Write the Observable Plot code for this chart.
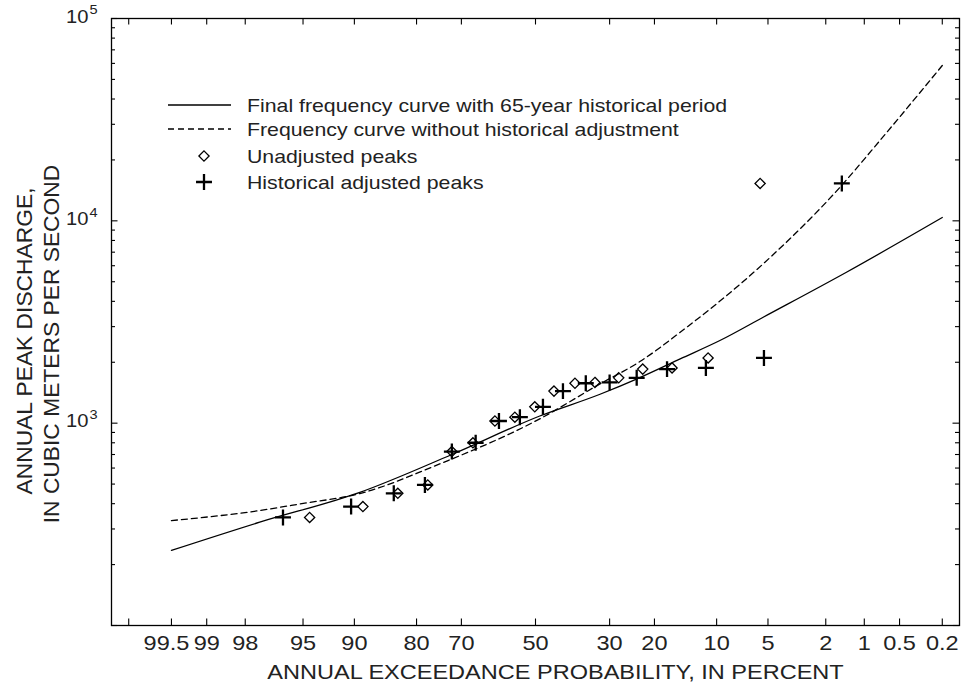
<!DOCTYPE html>
<html><head><meta charset="utf-8">
<script src="https://cdn.jsdelivr.net/npm/d3@7"></script>
<script src="https://cdn.jsdelivr.net/npm/@observablehq/plot@0.6"></script>
<style>html,body{margin:0;padding:0;background:#fff}svg{display:block}</style>
</head><body><div id="chart"></div>
<script>
// ---- data ----
const probTicks  = [99.8, 99.5, 99, 98, 95, 90, 80, 70, 50, 30, 20, 10, 5, 2, 1, 0.5, 0.2];
const probLabels = ["", "99.5", "99", "98", "95", "90", "80", "70", "50", "30", "20", "10", "5", "2", "1", "0.5", "0.2"];
const decadeTicks = [100, 1000, 10000, 100000];
const decadeLabels = [1000, 10000, 100000];
const minorTicks = [200, 300, 400, 500, 600, 700, 800, 900,
                    2000, 3000, 4000, 5000, 6000, 7000, 8000, 9000,
                    20000, 30000, 40000, 50000, 60000, 70000, 80000, 90000];

// Final frequency curve with 65-year historical period
const finalProb = [99.5, 97.45, 89.3, 72.3, 48.8, 32.4, 23.0, 15.3, 9.6, 5.36, 1.39, 0.2];
const finalQ    = [235, 324, 455, 700, 1085, 1390, 1680, 2079, 2561, 3338, 5570, 10380];

// Frequency curve without historical adjustment
const unadjCurveProb = [99.5, 97.45, 95.2, 89.3, 75.1, 48.8, 32.4, 23.0, 15.3, 5.36, 1.56, 0.74, 0.2];
const unadjCurveQ    = [330, 370, 399, 449, 629, 1050, 1564, 2016, 2813, 6131, 14660, 24950, 58570];

// Peaks (same discharges, two plotting positions)
const peakQ      = [15300, 2100, 1875, 1850, 1675, 1590, 1575, 1440, 1205, 1070, 1025, 800, 724, 495, 450, 387, 342];
const unadjProb  = [5.6, 11.1, 16.7, 22.4, 27.8, 33.7, 39.0, 44.8, 50.2, 55.8, 61.3, 67.1, 72.3, 77.7, 83.5, 88.9, 94.5];
const histProb   = [1.51, 5.3, 11.4, 17.6, 23.7, 30.0, 36.1, 42.3, 47.9, 54.4, 60.2, 66.4, 72.3, 78.3, 84.2, 90.4, 96.3];

const legendLabels = [
  "Final frequency curve with 65-year historical period",
  "Frequency curve without historical adjustment",
  "Unadjusted peaks",
  "Historical adjusted peaks"
];
const xTitle = "ANNUAL EXCEEDANCE PROBABILITY, IN PERCENT";
const yTitle1 = "ANNUAL PEAK DISCHARGE,";
const yTitle2 = "IN CUBIC METERS PER SECOND";

// ---- normal probability transform (Acklam inverse normal) ----
function probit(p) {
  const a=[-3.969683028665376e+01,2.209460984245205e+02,-2.759285104469687e+02,1.383577518672690e+02,-3.066479806614716e+01,2.506628277459239e+00];
  const b=[-5.447609879822406e+01,1.615858368580409e+02,-1.556989798598866e+02,6.680131188771972e+01,-1.328068155288572e+01];
  const c=[-7.784894002430293e-03,-3.223964580411365e-01,-2.400758277161838e+00,-2.549732539343734e+00,4.374664141464968e+00,2.938163982698783e+00];
  const d=[7.784695709041462e-03,3.224671290700398e-01,2.445134137142996e+00,3.754408661907416e+00];
  const pl = 0.02425, ph = 1 - pl;
  let q, r;
  if (p < pl) { q = Math.sqrt(-2*Math.log(p)); return (((((c[0]*q+c[1])*q+c[2])*q+c[3])*q+c[4])*q+c[5])/((((d[0]*q+d[1])*q+d[2])*q+d[3])*q+1); }
  if (p <= ph) { q = p - 0.5; r = q*q; return (((((a[0]*r+a[1])*r+a[2])*r+a[3])*r+a[4])*r+a[5])*q/(((((b[0]*r+b[1])*r+b[2])*r+b[3])*r+b[4])*r+1); }
  q = Math.sqrt(-2*Math.log(1-p)); return -(((((c[0]*q+c[1])*q+c[2])*q+c[3])*q+c[4])*q+c[5])/((((d[0]*q+d[1])*q+d[2])*q+d[3])*q+1);
}
const zx = p => -probit(p / 100);

// ---- tables ----
const finalCurve = finalProb.map((p, i) => ({p, q: finalQ[i]}));
const unadjCurve = unadjCurveProb.map((p, i) => ({p, q: unadjCurveQ[i]}));
const unadjPeaks = unadjProb.map((p, i) => ({p, q: peakQ[i]}));
const histPeaks  = histProb.map((p, i) => ({p, q: peakQ[i]}));
const xTickData  = probTicks.map((p, i) => ({p, label: probLabels[i]}));

const W = 966, H = 692, ML = 111, MR = 7, MT = 18, MB = 67;
const PW = W - ML - MR, PH = H - MT - MB;
const FONT = "'Liberation Sans', Arial, Helvetica, sans-serif";
const INK = "#222";

const svg = Plot.plot({
  width: W, height: H,
  marginLeft: ML, marginRight: MR, marginTop: MT, marginBottom: MB,
  style: {fontFamily: FONT, background: "#fff", color: "#000", overflow: "visible"},
  x: {type: "linear", domain: [-3, 3], axis: null},
  y: {type: "log", domain: [100, 100000], axis: null},
  marks: [
    // ticks, inward on all four sides
    Plot.tickX(probTicks, {x: zx, insetTop: PH - 6.5, stroke: "#000", strokeWidth: 1.1}),
    Plot.tickX(probTicks, {x: zx, insetBottom: PH - 6.5, stroke: "#000", strokeWidth: 1.1}),
    Plot.tickY(decadeTicks, {y: d => d, insetRight: PW - 6.5, stroke: "#000", strokeWidth: 1.1}),
    Plot.tickY(decadeTicks, {y: d => d, insetLeft: PW - 6.5, stroke: "#000", strokeWidth: 1.1}),
    Plot.tickY(minorTicks, {y: d => d, insetRight: PW - 4, stroke: "#000", strokeWidth: 1.1}),
    Plot.tickY(minorTicks, {y: d => d, insetLeft: PW - 4, stroke: "#000", strokeWidth: 1.1}),
    // x tick labels (the "99.5" label sits slightly left of its tick in the reference)
    Plot.text(xTickData.filter(d => d.label === "99.5"), {x: d => zx(d.p), text: "label", frameAnchor: "bottom", lineAnchor: "top", textAnchor: "middle", dx: -5, dy: 10, fontSize: 21, fill: INK}),
    Plot.text(xTickData.filter(d => d.label !== "99.5"), {x: d => zx(d.p), text: "label", frameAnchor: "bottom", lineAnchor: "top", textAnchor: "middle", dy: 10, fontSize: 21, fill: INK}),
    // y tick labels 10^n
    Plot.text(decadeLabels, {y: d => d, text: () => "10", frameAnchor: "left", textAnchor: "end", dx: -23, dy: -1.5, fontSize: 18, fill: INK}),
    Plot.text(decadeLabels, {y: d => d, text: d => String(Math.round(Math.log10(d))), frameAnchor: "left", textAnchor: "start", dx: -22, dy: -8.5, fontSize: 13, fill: INK}),
    // axis titles
    Plot.text([xTitle], {text: d => d, frameAnchor: "bottom", textAnchor: "middle", dx: 20, dy: 53, fontSize: 21, fill: INK}),
    Plot.text([yTitle1], {text: d => d, frameAnchor: "left", textAnchor: "middle", rotate: -90, dx: -86.6, dy: 19, fontSize: 22.8, fill: INK}),
    Plot.text([yTitle2], {text: d => d, frameAnchor: "left", textAnchor: "middle", rotate: -90, dx: -59.6, dy: 22, fontSize: 22.8, fill: INK}),
    // curves
    Plot.line(finalCurve, {x: d => zx(d.p), y: "q", stroke: "#000", strokeWidth: 1.3, curve: "monotone-x"}),
    Plot.line(unadjCurve, {x: d => zx(d.p), y: "q", stroke: "#000", strokeWidth: 1.3, strokeDasharray: "6,4", curve: "monotone-x"}),
    // peaks
    Plot.dot(unadjPeaks, {x: d => zx(d.p), y: "q", symbol: "diamond2", r: 4.6, stroke: "#000", strokeWidth: 1.3, fill: "none"}),
    Plot.dot(histPeaks, {x: d => zx(d.p), y: "q", symbol: "plus", r: 5.2, stroke: "#000", strokeWidth: 2.3}),
    Plot.frame({stroke: "#000", strokeWidth: 1.3})
  ]
});
document.getElementById("chart").appendChild(svg);

// ---- legend (inside the frame, top-left) ----
const lg = d3.select(svg).append("g")
  .attr("font-family", FONT).attr("font-size", 19).attr("fill", INK).attr("text-anchor", "start");
const rowsY = [105, 129, 156, 182];
const lineX0 = 168, lineX1 = 231, symX = 204, textX = 247;
lg.append("line").attr("x1", lineX0).attr("x2", lineX1).attr("y1", rowsY[0]).attr("y2", rowsY[0]).attr("stroke", "#000").attr("stroke-width", 1.3);
lg.append("line").attr("x1", lineX0).attr("x2", lineX1).attr("y1", rowsY[1]).attr("y2", rowsY[1]).attr("stroke", "#000").attr("stroke-width", 1.3).attr("stroke-dasharray", "6,4");
lg.append("path").attr("d", d3.symbol(d3.symbolDiamond2, Math.PI * 4.6 * 4.6)()).attr("transform", `translate(${symX},${rowsY[2]})`).attr("fill", "none").attr("stroke", "#000").attr("stroke-width", 1.3);
lg.append("path").attr("d", d3.symbol(d3.symbolPlus, Math.PI * 5.2 * 5.2)()).attr("transform", `translate(${symX},${rowsY[3]})`).attr("fill", "none").attr("stroke", "#000").attr("stroke-width", 2.3);
legendLabels.forEach((t, i) => {
  lg.append("text").attr("x", textX).attr("y", rowsY[i]).attr("dy", "0.36em").text(t);
});

// ---- horizontal widening of non-rotated text to match the reference's wider type ----
const S = 1.12;
svg.querySelectorAll("text").forEach(t => {
  const tr = t.getAttribute("transform") || "";
  if (tr.includes("rotate")) return;
  if (t.querySelector("tspan")) return;
  const len = t.getComputedTextLength();
  if (len > 0) {
    t.setAttribute("textLength", (len * S).toFixed(2));
    t.setAttribute("lengthAdjust", "spacingAndGlyphs");
  }
});
</script>
</body></html>
